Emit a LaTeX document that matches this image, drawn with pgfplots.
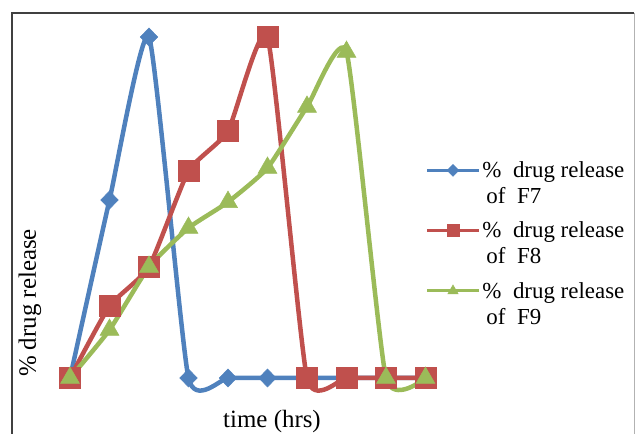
\documentclass[border=0pt]{standalone}
\usepackage{fontspec}
\setmainfont{Liberation Serif}
\usepackage{pgfplots}
\usepackage{pgfplotstable}
\pgfplotsset{compat=1.18}

\definecolor{f7blue}{HTML}{4F81BD}
\definecolor{f8red}{HTML}{C0504D}
\definecolor{f9green}{HTML}{9BBB59}

% time point index vs % drug release
\pgfplotstableread{
t  F7    F8    F9
0  0     0     0
1  52.2  21.1  14.1
2  100   32.6  32.6
3  0     60.7  44.0
4  0     72.4  51.6
5  0     100   61.6
6  0     0     79.5
7  0     0     95.6
8  0     0     0
9  0     0     0
}\release

\begin{document}
\begin{tikzpicture}[x=1bp,y=1bp]
\useasboundingbox (0,0) rectangle (637,434);
% chart frame
\draw[line width=2bp, black!75] (12,-5) -- (12,421) -- (634,421);
\draw[line width=1bp, black!30] (634,421) -- (634,-5);

\begin{axis}[
  at={(70bp,56bp)}, anchor=south west,
  scale only axis, width=355.5bp, height=341bp,
  xmin=0, xmax=9, ymin=0, ymax=100,
  axis line style={draw=none}, ticks=none,
  clip=false,
  every axis plot/.append style={line width=4.5bp, smooth, tension=0.3},
  legend style={draw=none, fill=none, at={(1,0.64)}, anchor=north west,
    font=\fontsize{23}{26}\selectfont, inner sep=0pt, outer sep=0pt,
    row sep=13bp,
    cells={anchor=west, align=left}},
  % the key line sits beside the first text line of each entry
  legend image code/.code={%
    \path[draw=none, fill=none] (0bp,-19bp) -- (0bp,19bp);
    \draw[line width=3bp, mark repeat=2, mark phase=2, mark size=6bp]
      plot coordinates {(0bp,13bp) (26bp,13bp) (52bp,13bp)};},
]
\addplot[color=f7blue, mark=diamond*, mark size=9bp,
  mark options={xscale=1.3, line width=0.5bp}] table[x=t, y=F7] {\release};
\addlegendentry{\%\ \ drug release\\\hspace{4bp}of\ \ F7}
\addplot[color=f8red, mark=square*, mark size=10.5bp,
  mark options={line width=0.5bp}] table[x=t, y=F8] {\release};
\addlegendentry{\%\ \ drug release\\\hspace{4bp}of\ \ F8}
\addplot[color=f9green, mark=triangle*, mark size=11bp,
  mark options={line width=0.5bp}] table[x=t, y=F9] {\release};
\addlegendentry{\%\ \ drug release\\\hspace{4bp}of\ \ F9}
\end{axis}

\node[font=\fontsize{25}{28}\selectfont] at (272,12) {time (hrs)};
\node[font=\fontsize{25}{28}\selectfont, rotate=90] at (30,131) {\% drug release};
\end{tikzpicture}
\end{document}
